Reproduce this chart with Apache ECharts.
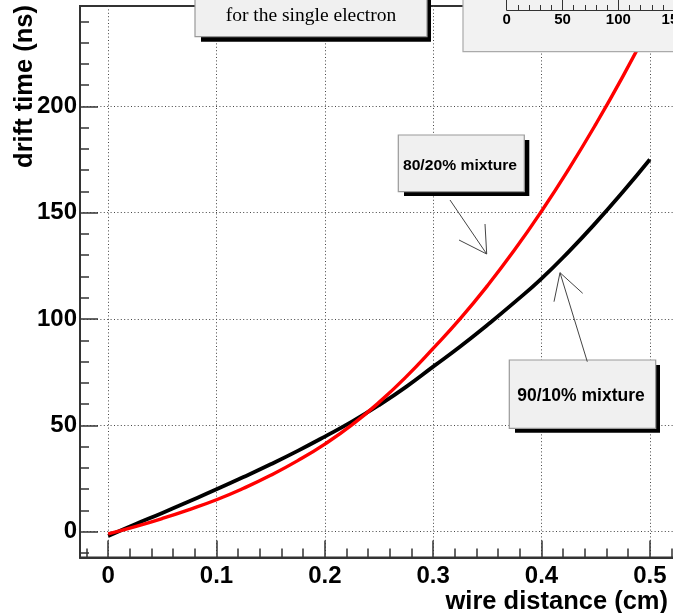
<!DOCTYPE html>
<html>
<head>
<meta charset="utf-8">
<title>drift time vs wire distance</title>
<script src="https://cdn.jsdelivr.net/npm/echarts@6/dist/echarts.min.js"></script>
<style>html,body{margin:0;padding:0;background:#fff;}</style>
</head>
<body>
<div id="main" style="width:673px;height:613px;"></div>
<script type="text/javascript">
// wire distance (cm)
var distance = [0, 0.025, 0.05, 0.075, 0.1, 0.125, 0.15, 0.175, 0.2, 0.225, 0.25,
                0.275, 0.3, 0.325, 0.35, 0.375, 0.4, 0.425, 0.45, 0.475, 0.5];
// drift time (ns), 90/10% mixture (black)
var drift9010 = [-2, 3.5, 8.8, 14.3, 19.9, 25.7, 31.7, 38.0, 44.7, 51.7, 59.5,
                 68.1, 77.6, 87.1, 97.2, 107.8, 119.0, 131.6, 145.2, 159.7, 175.0];
// drift time (ns), 80/20% mixture (red)
var drift8020 = [-1, 2.4, 6.2, 10.4, 15.0, 20.4, 26.5, 33.4, 41.2, 50.2, 60.8,
                 72.8, 86.2, 100.2, 115.6, 132.4, 150.7, 170.4, 191.5, 214.0, 238.0];

var xMajor = [0, 0.1, 0.2, 0.3, 0.4, 0.5];
var xMinor = [-0.02, 0.02, 0.04, 0.06, 0.08, 0.12, 0.14, 0.16, 0.18, 0.22, 0.24, 0.26, 0.28,
              0.32, 0.34, 0.36, 0.38, 0.42, 0.44, 0.46, 0.48, 0.52];
var yMajor = [0, 50, 100, 150, 200];
var yMinor = [-10, 10, 20, 30, 40, 60, 70, 80, 90, 110, 120, 130, 140, 160, 170, 180, 190,
              210, 220, 230, 240];
var insetMajor = [0, 50, 100, 150];
var insetMinor = [10, 20, 30, 40, 60, 70, 80, 90, 110, 120, 130, 140];

function pairs(ys) {
    return distance.map(function (x, i) { return [x, ys[i]]; });
}

var FONT = '"Liberation Sans", Arial, Helvetica, sans-serif';
var dotted = { color: '#444', width: 1, type: [1, 2.4] };
var frame = { color: '#333', width: 2 };
var tickStyle = { color: '#333', width: 1.5 };

var myChart = echarts.init(document.getElementById('main'));
myChart.setOption({
    backgroundColor: '#fff',
    animation: false,
    grid: [{
        left: 80, top: 6, width: 598, height: 551.6,
        show: true, borderColor: '#333', borderWidth: 2, backgroundColor: '#fff',
        containLabel: false, outerBoundsMode: 'none'
    }, {
        left: 506.7, top: 0, width: 167.4, height: 10,
        containLabel: false, outerBoundsMode: 'none'
    }],
    xAxis: [{
        type: 'value', gridIndex: 0, min: -0.026, max: 0.526, position: 'bottom',
        axisLine: { show: true, onZero: false, lineStyle: frame },
        axisTick: { show: true, inside: true, length: 17, customValues: xMajor, lineStyle: tickStyle },
        axisLabel: {
            show: true, customValues: xMajor, margin: 7,
            fontFamily: FONT, fontWeight: 'bold', fontSize: 24, color: '#000',
            formatter: function (v) { return v === 0 ? '0' : String(v); }
        },
        splitLine: { show: true, lineStyle: dotted }
    }, {
        type: 'value', gridIndex: 0, min: -0.026, max: 0.526, position: 'bottom',
        axisLine: { show: false, onZero: false },
        axisTick: { show: true, inside: true, length: 9, customValues: xMinor, lineStyle: tickStyle },
        axisLabel: { show: false },
        splitLine: { show: false }
    }, {
        type: 'value', gridIndex: 1, min: 0, max: 150, position: 'bottom', z: 60,
        axisLine: { show: true, onZero: false, lineStyle: { color: '#333', width: 1 } },
        axisTick: { show: true, inside: true, length: 11, customValues: insetMajor, lineStyle: { color: '#333', width: 1 } },
        axisLabel: {
            show: true, customValues: insetMajor, margin: 2,
            fontFamily: FONT, fontWeight: 'bold', fontSize: 15, color: '#000'
        },
        splitLine: { show: false }
    }, {
        type: 'value', gridIndex: 1, min: 0, max: 150, position: 'bottom', z: 60,
        axisLine: { show: false, onZero: false },
        axisTick: { show: true, inside: true, length: 5, customValues: insetMinor, lineStyle: { color: '#333', width: 1 } },
        axisLabel: { show: false },
        splitLine: { show: false }
    }],
    yAxis: [{
        type: 'value', gridIndex: 0, min: -12.2, max: 247.2, position: 'left',
        axisLine: { show: true, onZero: false, lineStyle: frame },
        axisTick: { show: true, inside: true, length: 18, customValues: yMajor, lineStyle: tickStyle },
        axisLabel: {
            show: true, customValues: yMajor, margin: 3, padding: [6, 0, 0, 0],
            fontFamily: FONT, fontWeight: 'bold', fontSize: 24, color: '#000'
        },
        splitLine: { show: true, lineStyle: dotted }
    }, {
        type: 'value', gridIndex: 0, min: -12.2, max: 247.2, position: 'left',
        axisLine: { show: false, onZero: false },
        axisTick: { show: true, inside: true, length: 9, customValues: yMinor, lineStyle: tickStyle },
        axisLabel: { show: false },
        splitLine: { show: false }
    }, {
        type: 'value', gridIndex: 1, show: false, min: 0, max: 1
    }],
    series: [{
        name: '90/10% mixture', type: 'line', xAxisIndex: 0, yAxisIndex: 0,
        data: pairs(drift9010), smooth: true, showSymbol: false,
        lineStyle: { color: '#000', width: 3.8 }
    }, {
        name: '80/20% mixture', type: 'line', xAxisIndex: 0, yAxisIndex: 0,
        data: pairs(drift8020), smooth: true, showSymbol: false,
        lineStyle: { color: '#ff0000', width: 3.4 }
    }],
    graphic: { elements: [
        // inset pad in the top right corner
        { type: 'rect', z: 50, shape: { x: 463, y: -5, width: 215, height: 56.7 },
          style: { fill: '#f2f2f2', stroke: '#aaa', lineWidth: 1.2 } },
        // title box
        { type: 'rect', z: 50, shape: { x: 201, y: -6, width: 230, height: 47.7 }, style: { fill: '#000' } },
        { type: 'rect', z: 51, shape: { x: 195, y: -10, width: 232, height: 46.7 },
          style: { fill: '#f0f0f0', stroke: '#999', lineWidth: 1.2 } },
        { type: 'text', z: 52, x: 311, y: 16,
          style: { text: 'for the single electron', font: '19.5px "Liberation Serif", "Times New Roman", serif',
                   fill: '#000', align: 'center', verticalAlign: 'middle' } },
        // 80/20 label
        { type: 'rect', z: 50, shape: { x: 404, y: 140, width: 125.3, height: 56 }, style: { fill: '#000' } },
        { type: 'rect', z: 51, shape: { x: 398.3, y: 135, width: 126, height: 56.7 },
          style: { fill: '#f0f0f0', stroke: '#999', lineWidth: 1.2 } },
        { type: 'text', z: 52, x: 460, y: 166, scaleX: 1.12,
          style: { text: '80/20% mixture', font: 'bold 14px ' + FONT, fill: '#000',
                   align: 'center', verticalAlign: 'middle' } },
        { type: 'polyline', z: 52, shape: { points: [[450, 200], [486.7, 254]] },
          style: { stroke: '#444', lineWidth: 1, fill: null } },
        { type: 'polyline', z: 52, shape: { points: [[459, 240], [486.7, 254], [485, 224]] },
          style: { stroke: '#444', lineWidth: 1, fill: null } },
        // 90/10 label
        { type: 'rect', z: 50, shape: { x: 515, y: 365, width: 145, height: 67.7 }, style: { fill: '#000' } },
        { type: 'rect', z: 51, shape: { x: 509.3, y: 360, width: 146.4, height: 68.3 },
          style: { fill: '#f0f0f0', stroke: '#999', lineWidth: 1.2 } },
        { type: 'text', z: 52, x: 581, y: 396,
          style: { text: '90/10% mixture', font: 'bold 17.5px ' + FONT, fill: '#000',
                   align: 'center', verticalAlign: 'middle' } },
        { type: 'polyline', z: 52, shape: { points: [[587.3, 361.7], [560, 272.7]] },
          style: { stroke: '#444', lineWidth: 1, fill: null } },
        { type: 'polyline', z: 52, shape: { points: [[554, 301.7], [560, 272.7], [582.7, 293.3]] },
          style: { stroke: '#444', lineWidth: 1, fill: null } },
        // axis titles
        { type: 'text', z: 52, x: 668, y: 602,
          style: { text: 'wire distance (cm)', font: 'bold 25.5px ' + FONT, fill: '#000',
                   align: 'right', verticalAlign: 'middle' } },
        { type: 'text', z: 52, x: 25, y: 5, rotation: Math.PI / 2,
          style: { text: 'drift time (ns)', font: 'bold 25.5px ' + FONT, fill: '#000',
                   align: 'right', verticalAlign: 'middle' } }
    ] }
});
</script>
</body>
</html>
